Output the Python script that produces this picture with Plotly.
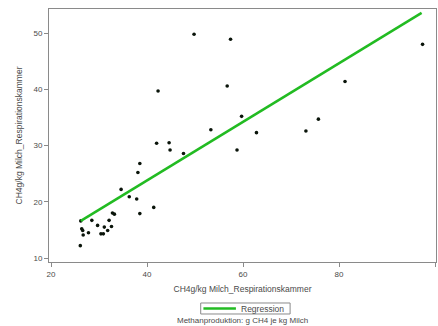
import plotly.graph_objects as go

# Methane yield per kg milk measured in the respiration chamber
x_vals = [49.8, 57.4, 42.3, 56.7, 59.7, 62.8, 53.3, 42.0, 44.6, 44.8,
          47.6, 58.75, 38.5, 38.1, 34.6, 36.3, 37.85, 41.4, 38.5, 32.8,
          33.2, 26.2, 28.5, 29.7, 32.1, 26.4, 26.6, 27.8, 26.7, 30.4,
          30.9, 31.1, 31.8, 32.6, 26.1, 73.1, 75.7, 81.25, 97.4]
y_vals = [49.8, 48.9, 39.7, 40.6, 35.2, 32.3, 32.8, 30.4, 30.5, 29.2,
          28.6, 29.2, 26.8, 25.2, 22.2, 20.9, 20.5, 19.0, 17.9, 18.0,
          17.8, 16.6, 16.7, 15.8, 16.7, 15.2, 14.9, 14.5, 14.1, 14.3,
          14.3, 15.5, 14.9, 15.6, 12.2, 32.6, 34.7, 41.4, 48.0]

# Regression line coefficients and its x extent
reg_intercept = 2.95
reg_slope = 0.521
reg_x = [26.2, 97.2]
reg_y = [reg_intercept + reg_slope * v for v in reg_x]

x_ticks = [20, 40, 60, 80, 100]
y_ticks = [10, 20, 30, 40, 50]

axis_title = "CH4g/kg Milch_Respirationskammer"
legend_label = "Regression"
caption = "Methanproduktion: g CH4 je kg Milch"

font_family = "Liberation Sans, Arial, sans-serif"
axis_color = "#8a8a8a"
text_color = "#4a4a4a"
reg_color = "#22bb22"

fig = go.Figure()
fig.add_trace(go.Scatter(
    x=x_vals, y=y_vals, mode="markers",
    marker=dict(color="#0a140a", size=3.6),
    showlegend=False, hoverinfo="x+y",
))
fig.add_trace(go.Scatter(
    x=reg_x, y=reg_y, mode="lines",
    line=dict(color=reg_color, width=2.5),
    name=legend_label, showlegend=False,
))

axis_common = dict(
    showgrid=False, zeroline=False, automargin=False,
    showline=True, linecolor=axis_color, linewidth=1, mirror=True,
    ticks="outside", ticklen=4, tickcolor=axis_color, tickwidth=1,
    tickfont=dict(size=8, color=text_color, family=font_family),
    title_font=dict(size=8.5, color=text_color, family=font_family),
)

fig.update_xaxes(range=[19.58, 100.2], tickvals=x_ticks,
                 title=dict(text=axis_title, standoff=8), **axis_common)
fig.update_yaxes(range=[9.29, 54.29], tickvals=y_ticks,
                 title=dict(text=axis_title, standoff=9), **axis_common)

# Compact legend box below the x-axis title, with the caption under it
legend_box = dict(x0=0.392, x1=0.623, y0=-0.2055, y1=-0.162)
legend_line = dict(x0=0.399, x1=0.483, y=-0.184)

shapes = [
    dict(type="rect", xref="paper", yref="paper",
         x0=legend_box["x0"], x1=legend_box["x1"],
         y0=legend_box["y0"], y1=legend_box["y1"],
         line=dict(color=axis_color, width=1), fillcolor="white"),
    dict(type="line", xref="paper", yref="paper",
         x0=legend_line["x0"], x1=legend_line["x1"],
         y0=legend_line["y"], y1=legend_line["y"],
         line=dict(color=reg_color, width=2.5)),
]

annotations = [
    dict(text=legend_label, xref="paper", yref="paper",
         x=legend_line["x1"] + 0.008, y=legend_line["y"],
         xanchor="left", yanchor="middle", showarrow=False,
         font=dict(size=8.5, color=text_color, family=font_family)),
    dict(text=caption, xref="paper", yref="paper", x=0.5, y=-0.233,
         xanchor="center", yanchor="middle", showarrow=False,
         font=dict(size=8, color=text_color, family=font_family)),
]

fig.update_layout(
    width=438, height=326,
    margin=dict(l=49, r=2, t=9, b=64),
    paper_bgcolor="white", plot_bgcolor="white",
    font=dict(family=font_family, size=8, color=text_color),
    showlegend=False,
    shapes=shapes,
    annotations=annotations,
)

fig.write_html("out.html")
